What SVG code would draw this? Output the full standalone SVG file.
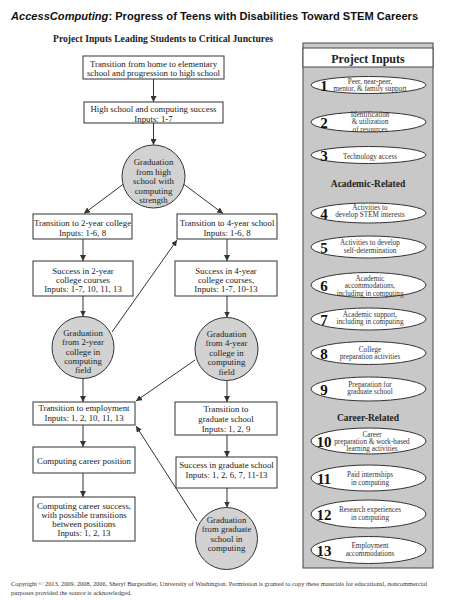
<svg xmlns="http://www.w3.org/2000/svg" width="451" height="600" viewBox="0 0 451 600">
<style>
.t{font-family:"Liberation Serif","Times New Roman",serif;font-size:8.8px;fill:#222;text-anchor:middle}
.s{font-family:"Liberation Serif","Times New Roman",serif;font-size:7.2px;fill:#333;text-anchor:middle}
.n{font-family:"Liberation Serif","Times New Roman",serif;font-size:15px;font-weight:bold;fill:#111;text-anchor:middle}
.h{font-family:"Liberation Serif","Times New Roman",serif;font-weight:bold;fill:#222;text-anchor:middle}
.box{fill:#fff;stroke:#333;stroke-width:1}
.circ{fill:#d2d2d2;stroke:#333;stroke-width:1}
.ell{fill:#fff;stroke:#333;stroke-width:1}
.c{stroke:#333;stroke-width:1;fill:none;marker-end:url(#ah)}
</style>
<defs>
<marker id="ah" markerWidth="6" markerHeight="6" refX="6" refY="3" orient="auto" markerUnits="userSpaceOnUse">
<path d="M0,0 L6,3 L0,6 Z" fill="#333"/>
</marker>
</defs>
<rect width="451" height="600" fill="#fff"/>
<text x="11" y="19.5" font-family="Liberation Sans,Arial,sans-serif" font-size="11.1" font-weight="bold" fill="#111"><tspan font-style="italic">AccessComputing</tspan>: Progress of Teens with Disabilities Toward STEM Careers</text>
<text class="h" x="163" y="42" font-size="9.6">Project Inputs Leading Students to Critical Junctures</text>

<g id="connectors">
<line class="c" x1="153.5" y1="79" x2="153.5" y2="102"/>
<line class="c" x1="153.5" y1="123" x2="153.5" y2="145"/>
<line class="c" x1="123.5" y1="184" x2="84" y2="213.5"/>
<line class="c" x1="183.5" y1="184" x2="223" y2="213.5"/>
<line class="c" x1="83" y1="239" x2="83" y2="261"/>
<line class="c" x1="227" y1="239" x2="227" y2="261"/>
<line class="c" x1="83" y1="296" x2="83" y2="316.5"/>
<line class="c" x1="227" y1="296" x2="227" y2="317.5"/>
<line class="c" x1="112" y1="332" x2="177" y2="240"/>
<line class="c" x1="195" y1="360" x2="136" y2="401"/>
<line class="c" x1="83" y1="378.5" x2="83" y2="402"/>
<line class="c" x1="227" y1="380.5" x2="227" y2="402"/>
<line class="c" x1="83" y1="425" x2="83" y2="447"/>
<line class="c" x1="83" y1="473" x2="83" y2="497"/>
<line class="c" x1="227" y1="435" x2="227" y2="457"/>
<line class="c" x1="227" y1="488" x2="227" y2="507.5"/>
<line class="c" x1="197" y1="521" x2="136" y2="426"/>
</g>

<g id="n-home"><rect class="box" x="83" y="56" width="141" height="23"/>
<text class="t" x="153.5" y="67">Transition from home to elementary</text><text class="t" x="153.5" y="76">school and progression to high school</text></g>
<g id="n-hs"><rect class="box" x="84" y="102" width="139" height="21"/>
<text class="t" x="153.5" y="112">High school and computing success</text><text class="t" x="153.5" y="121.5">Inputs: 1-7</text></g>
<g id="n-gradhs"><circle class="circ" cx="153.5" cy="176.5" r="31.5"/>
<text class="t" x="153.5" y="165">Graduation</text><text class="t" x="153.5" y="174.5">from high</text><text class="t" x="153.5" y="184">school with</text><text class="t" x="153.5" y="193.5">computing</text><text class="t" x="153.5" y="203">strength</text></g>
<g id="n-t2"><rect class="box" x="33" y="214" width="99" height="25"/>
<text class="t" x="82.5" y="226">Transition to 2-year college</text><text class="t" x="82.5" y="236">Inputs: 1-6, 8</text></g>
<g id="n-t4"><rect class="box" x="177" y="214" width="100" height="25"/>
<text class="t" x="227" y="226">Transition to 4-year school</text><text class="t" x="227" y="236">Inputs: 1-6, 8</text></g>
<g id="n-s2"><rect class="box" x="33" y="261" width="100" height="35"/>
<text class="t" x="83" y="273.5">Success in 2-year</text><text class="t" x="83" y="282.5">college courses</text><text class="t" x="83" y="291.5">Inputs: 1-7, 10, 11, 13</text></g>
<g id="n-s4"><rect class="box" x="175" y="261" width="102" height="35"/>
<text class="t" x="226" y="273.5">Success in 4-year</text><text class="t" x="226" y="282.5">college courses,</text><text class="t" x="226" y="291.5">Inputs: 1-7, 10-13</text></g>
<g id="n-g2"><circle class="circ" cx="83" cy="347.5" r="31"/>
<text class="t" x="83" y="336">Graduation</text><text class="t" x="83" y="345">from 2-year</text><text class="t" x="83" y="355">college in</text><text class="t" x="83" y="364">computing</text><text class="t" x="83" y="373">field</text></g>
<g id="n-g4"><circle class="circ" cx="226.5" cy="349" r="31.5"/>
<text class="t" x="226.5" y="337">Graduation</text><text class="t" x="226.5" y="346">from 4-year</text><text class="t" x="226.5" y="356">college in</text><text class="t" x="226.5" y="365">computing</text><text class="t" x="226.5" y="375">field</text></g>
<g id="n-temp"><rect class="box" x="33" y="402" width="102" height="23"/>
<text class="t" x="84" y="411">Transition to employment</text><text class="t" x="84" y="420.5">Inputs: 1, 2, 10, 11, 13</text></g>
<g id="n-tgrad"><rect class="box" x="175" y="402" width="102" height="33"/>
<text class="t" x="226" y="412">Transition to</text><text class="t" x="226" y="422">graduate school</text><text class="t" x="226" y="432">Inputs: 1, 2, 9</text></g>
<g id="n-career"><rect class="box" x="33" y="447" width="102" height="26"/>
<text class="t" x="84" y="463.5">Computing career position</text></g>
<g id="n-success"><rect class="box" x="33" y="497" width="102" height="44"/>
<text class="t" x="84" y="509">Computing career success,</text><text class="t" x="84" y="518">with possible transitions</text><text class="t" x="84" y="527">between positions</text><text class="t" x="84" y="536">Inputs: 1, 2, 13</text></g>
<g id="n-sgrad"><rect class="box" x="176" y="457" width="101" height="31"/>
<text class="t" x="226.5" y="468">Success in graduate school</text><text class="t" x="226.5" y="478">Inputs: 1, 2, 6, 7, 11-13</text></g>
<g id="n-ggrad"><circle class="circ" cx="226.5" cy="538.5" r="31"/>
<text class="t" x="226.5" y="523">Graduation</text><text class="t" x="226.5" y="532">from graduate</text><text class="t" x="226.5" y="542">school in</text><text class="t" x="226.5" y="551">computing</text></g>

<g id="panel">
<rect x="303" y="43" width="130" height="525" fill="#c8c8c8" stroke="#444" stroke-width="1"/>
<rect x="303" y="48" width="130" height="19" fill="#fff" stroke="#444" stroke-width="1"/>
<text class="h" x="368" y="63" font-size="12">Project Inputs</text>
<text class="h" x="368" y="187" font-size="9.5">Academic-Related</text>
<text class="h" x="368" y="420.5" font-size="9.5">Career-Related</text>
</g>
<g id="in1"><ellipse class="ell" cx="368.5" cy="85" rx="57.5" ry="8.5"/><text class="n" x="324" y="90.5">1</text>
<text class="s" x="370" y="83.5">Peer, near-peer,</text><text class="s" x="370" y="91">mentor, &amp; family support</text></g>
<g id="in2"><ellipse class="ell" cx="368.5" cy="122" rx="57.5" ry="10"/><text class="n" x="324" y="127.5">2</text>
<text class="s" x="370" y="116.5">Identification</text><text class="s" x="370" y="124">&amp; utilization</text><text class="s" x="370" y="131.5">of resources</text></g>
<g id="in3"><ellipse class="ell" cx="368.5" cy="155" rx="57.5" ry="8.5"/><text class="n" x="324" y="160.5">3</text>
<text class="s" x="370" y="158.5">Technology access</text></g>
<g id="in4"><ellipse class="ell" cx="368.5" cy="213" rx="57.5" ry="10"/><text class="n" x="324" y="218.5">4</text>
<text class="s" x="370" y="209.5">Activities to</text><text class="s" x="370" y="217">develop STEM interests</text></g>
<g id="in5"><ellipse class="ell" cx="368.5" cy="247" rx="57.5" ry="11"/><text class="n" x="324" y="252.5">5</text>
<text class="s" x="370" y="244.5">Activities to develop</text><text class="s" x="370" y="252.5">self-determination</text></g>
<g id="in6"><ellipse class="ell" cx="368.5" cy="285" rx="57.5" ry="12.5"/><text class="n" x="324" y="290.5">6</text>
<text class="s" x="370" y="280.5">Academic</text><text class="s" x="370" y="288">accommodations,</text><text class="s" x="370" y="295.5">including in computing</text></g>
<g id="in7"><ellipse class="ell" cx="368.5" cy="319" rx="57.5" ry="11"/><text class="n" x="324" y="324.5">7</text>
<text class="s" x="370" y="316.5">Academic support,</text><text class="s" x="370" y="324">including in computing</text></g>
<g id="in8"><ellipse class="ell" cx="368.5" cy="353" rx="57.5" ry="11.5"/><text class="n" x="324" y="358.5">8</text>
<text class="s" x="370" y="351.5">College</text><text class="s" x="370" y="359">preparation activities</text></g>
<g id="in9"><ellipse class="ell" cx="368.5" cy="389" rx="57.5" ry="12"/><text class="n" x="324" y="394.5">9</text>
<text class="s" x="370" y="386.5">Preparation for</text><text class="s" x="370" y="394">graduate school</text></g>
<g id="in10"><ellipse class="ell" cx="368.5" cy="441" rx="57.5" ry="13"/><text class="n" x="324" y="446.5">10</text>
<text class="s" x="372" y="436.5" font-size="5.8">Career</text><text class="s" x="372" y="443.5" font-size="5.8">preparation &amp; work-based</text><text class="s" x="372" y="450.5" font-size="5.8">learning activities</text></g>
<g id="in11"><ellipse class="ell" cx="368.5" cy="478" rx="57.5" ry="13"/><text class="n" x="324" y="483.5">11</text>
<text class="s" x="370" y="476.5">Paid internships</text><text class="s" x="370" y="484.5">in computing</text></g>
<g id="in12"><ellipse class="ell" cx="368.5" cy="514" rx="57.5" ry="14"/><text class="n" x="324" y="519.5">12</text>
<text class="s" x="370" y="511.5">Research experiences</text><text class="s" x="370" y="520">in computing</text></g>
<g id="in13"><ellipse class="ell" cx="368.5" cy="550" rx="57.5" ry="13.5"/><text class="n" x="324" y="555.5">13</text>
<text class="s" x="370" y="547.5">Employment</text><text class="s" x="370" y="555.5">accommodations</text></g>

<text x="11" y="585.5" font-family="Liberation Serif,Times New Roman,serif" font-size="6.4" fill="#333">Copyright © 2013, 2009, 2008, 2006, Sheryl Burgstahler, University of Washington. Permission is granted to copy these materials for educational, noncommercial</text>
<text x="11" y="594.5" font-family="Liberation Serif,Times New Roman,serif" font-size="6.4" fill="#333">purposes provided the source is acknowledged.</text>
</svg>
